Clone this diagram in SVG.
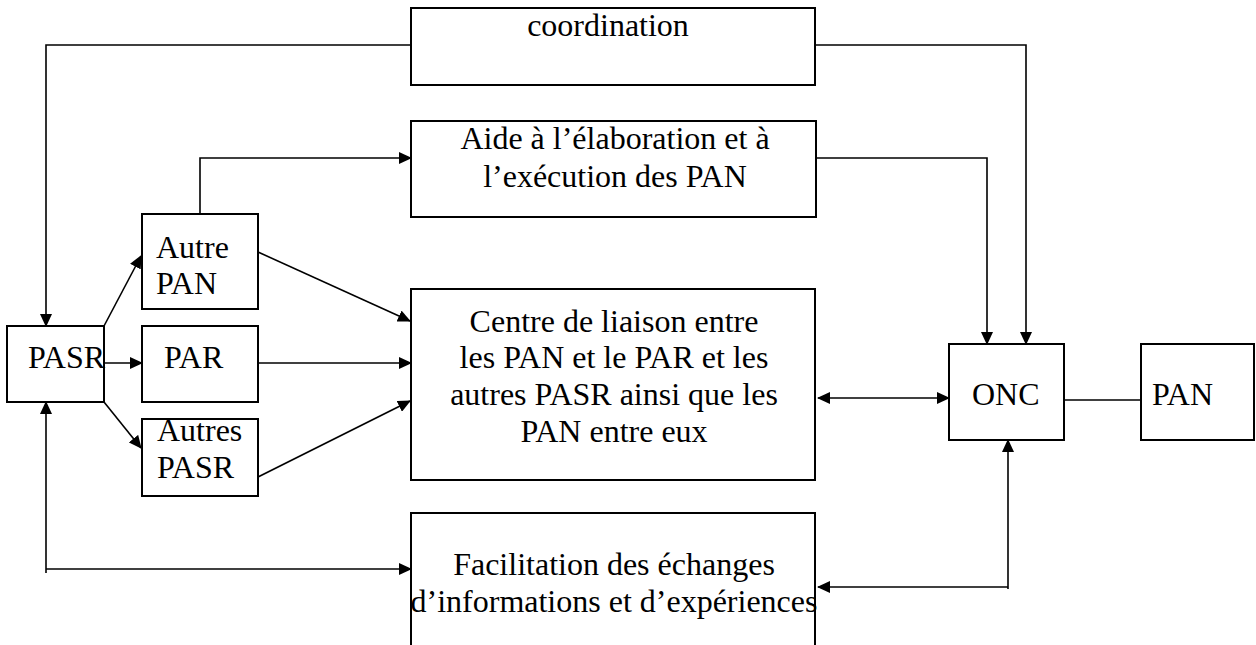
<svg xmlns="http://www.w3.org/2000/svg" width="1256" height="645" viewBox="0 0 1256 645">
<style>
.box{fill:#fff;stroke:#000;stroke-width:2}
.ln{fill:none;stroke:#000;stroke-width:1.6}
text{font-family:"Liberation Serif","Times New Roman",serif;font-size:32px;fill:#000}
.c{text-anchor:middle}
</style>
<defs>
<marker id="ah" markerUnits="userSpaceOnUse" markerWidth="13" markerHeight="12" refX="12" refY="6" orient="auto">
<path d="M0,0 L13,6 L0,12 Z" fill="#000"/>
</marker>
<marker id="as" markerUnits="userSpaceOnUse" markerWidth="13" markerHeight="12" refX="1" refY="6" orient="auto">
<path d="M13,0 L0,6 L13,12 Z" fill="#000"/>
</marker>
</defs>
<g id="connectors">
<path class="ln" d="M411,45 H46 V326" marker-end="url(#ah)"/>
<path class="ln" d="M815,45 H1026 V344" marker-end="url(#ah)"/>
<path class="ln" d="M817,158 H987 V344" marker-end="url(#ah)"/>
<path class="ln" d="M200,213 V158 H411" marker-end="url(#ah)"/>
<path class="ln" d="M104,326 L141,256" marker-end="url(#ah)"/>
<path class="ln" d="M104,363 H142" marker-end="url(#ah)"/>
<path class="ln" d="M104,402 L141,448" marker-end="url(#ah)"/>
<path class="ln" d="M258,252 L410,321" marker-end="url(#ah)"/>
<path class="ln" d="M258,363 H411" marker-end="url(#ah)"/>
<path class="ln" d="M258,477 L410,401" marker-end="url(#ah)"/>
<path class="ln" d="M818,398 H949" marker-start="url(#as)" marker-end="url(#ah)"/>
<path class="ln" d="M1064,400 H1141"/>
<path class="ln" d="M1008,589 V440" marker-end="url(#ah)"/>
<path class="ln" d="M1008,587 H818" marker-end="url(#ah)"/>
<path class="ln" d="M46,573 V402" marker-end="url(#ah)"/>
<path class="ln" d="M46,569 H411" marker-end="url(#ah)"/>
</g>
<g id="coordination">
<rect class="box" x="411" y="8" width="404" height="77"/>
<text class="c" x="608" y="36">coordination</text>
</g>
<g id="aide">
<rect class="box" x="411" y="121" width="405" height="96"/>
<text class="c" x="615" y="149">Aide à l’élaboration et à</text>
<text class="c" x="615" y="187">l’exécution des PAN</text>
</g>
<g id="centre">
<rect class="box" x="411" y="289" width="404" height="191"/>
<text class="c" x="614" y="332">Centre de liaison entre</text>
<text class="c" x="614" y="368">les PAN et le PAR et les</text>
<text class="c" x="614" y="405">autres PASR ainsi que les</text>
<text class="c" x="614" y="442">PAN entre eux</text>
</g>
<g id="facilitation">
<rect class="box" x="411" y="513" width="404" height="140"/>
<text class="c" x="614" y="575">Facilitation des échanges</text>
<text class="c" x="614" y="612">d’informations et d’expériences</text>
</g>
<g id="pasr">
<rect class="box" x="7" y="326" width="97" height="76"/>
<text x="28" y="368">PASR</text>
</g>
<g id="autre-pan">
<rect class="box" x="142" y="214" width="116" height="95"/>
<text x="156" y="258">Autre</text>
<text x="156" y="294">PAN</text>
</g>
<g id="par">
<rect class="box" x="142" y="326" width="116" height="76"/>
<text x="164" y="368">PAR</text>
</g>
<g id="autres-pasr">
<rect class="box" x="142" y="419" width="116" height="77"/>
<text x="157" y="441">Autres</text>
<text x="157" y="478">PASR</text>
</g>
<g id="onc">
<rect class="box" x="949" y="344" width="115" height="96"/>
<text x="972" y="405">ONC</text>
</g>
<g id="pan">
<rect class="box" x="1141" y="344" width="113" height="96"/>
<text x="1152" y="405">PAN</text>
</g>
</svg>
